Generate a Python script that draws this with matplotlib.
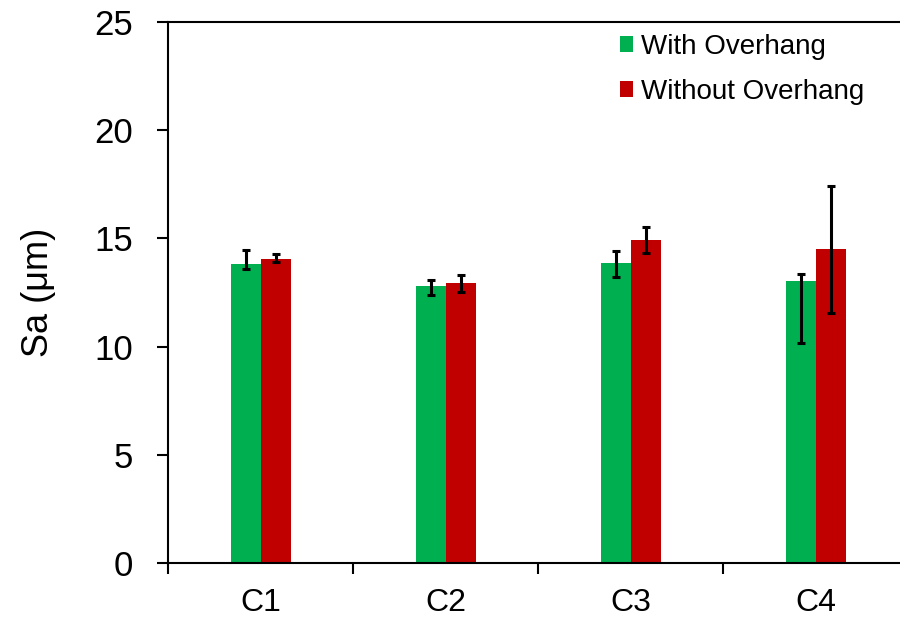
import matplotlib.pyplot as plt
import numpy as np

plt.rcParams['font.family'] = ['Liberation Sans', 'DejaVu Sans']

# data
categories = ['C1', 'C2', 'C3', 'C4']
with_overhang = [13.8, 12.8, 13.85, 13.05]
with_err_low = [0.2, 0.4, 0.65, 2.9]
with_err_high = [0.65, 0.3, 0.55, 0.3]
without_overhang = [14.07, 12.92, 14.93, 14.51]
without_err_low = [0.17, 0.4, 0.6, 2.95]
without_err_high = [0.23, 0.38, 0.6, 2.9]

green = '#00B050'
red = '#C00000'

fig = plt.figure(figsize=(9, 6.17), dpi=100)
ax = fig.add_axes([0.1867, 0.0875, 0.8223, 0.8768])

x = np.arange(len(categories))
w = 0.162
ekw = dict(ecolor='black', elinewidth=2.2, capsize=3, capthick=2.2)
ax.bar(x - w / 2, with_overhang, w, color=green, label='With Overhang',
       yerr=[with_err_low, with_err_high], error_kw=ekw)
ax.bar(x + w / 2, without_overhang, w, color=red, label='Without Overhang',
       yerr=[without_err_low, without_err_high], error_kw=ekw)

ax.set_xlim(-0.5, 3.5)
ax.set_ylim(0, 25)
ax.set_yticks([0, 5, 10, 15, 20, 25])
ax.set_xticks(np.arange(-0.5, 4, 1))
ax.set_xticklabels([])
ax.set_xticks(x, minor=True)
ax.set_xticklabels(categories, minor=True)
ax.tick_params(axis='x', which='major', direction='out', length=8, width=1.5)
ax.tick_params(axis='x', which='minor', length=0, pad=18, labelsize=23)
ax.tick_params(axis='y', direction='out', length=8, width=1.5, labelsize=25, pad=17)
ax.set_ylabel('Sa (μm)', fontsize=26, labelpad=28)

for s in ['left', 'bottom', 'top']:
    ax.spines[s].set_linewidth(1.5)
ax.spines['right'].set_visible(False)

ax.legend(loc='upper left', bbox_to_anchor=(0.689, 0.945), bbox_transform=fig.transFigure,
          frameon=False, fontsize=20, handlelength=0.47, handleheight=0.47,
          handletextpad=0.3, labelspacing=0.68, borderpad=0, borderaxespad=0)

fig.savefig('out.png', dpi=100)
